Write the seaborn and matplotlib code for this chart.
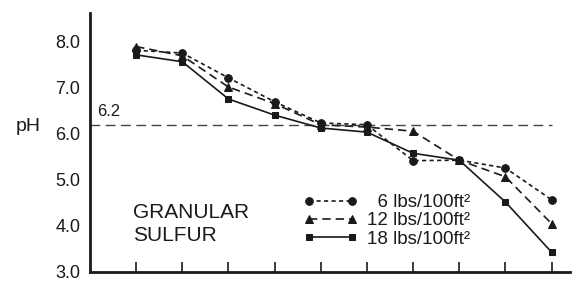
import matplotlib
matplotlib.use("Agg")
import matplotlib.pyplot as plt
import seaborn as sns
import pandas as pd

weeks = [1, 2, 3, 4, 5, 6, 7, 8, 9, 10]
ph_6 = [7.82, 7.76, 7.22, 6.70, 6.24, 6.20, 5.42, 5.43, 5.26, 4.57]
ph_12 = [7.90, 7.70, 7.02, 6.66, 6.20, 6.15, 6.06, 5.43, 5.07, 4.05]
ph_18 = [7.72, 7.57, 6.76, 6.41, 6.13, 6.04, 5.58, 5.43, 4.52, 3.43]
series_labels = ["6 lbs/100ft²", "12 lbs/100ft²", "18 lbs/100ft²"]
ytick_vals = [3.0, 4.0, 5.0, 6.0, 7.0, 8.0]
ref_ph = 6.2

sns.set_theme(style="white")
plt.rcParams['font.family'] = ['Liberation Sans', 'DejaVu Sans']

fig = plt.figure(figsize=(5.77, 2.83), dpi=100)
ax = fig.add_axes([0.156, 0.039, 0.832, 0.915])

df = pd.DataFrame({
    "x": weeks * 3,
    "pH": ph_6 + ph_12 + ph_18,
    "rate": [series_labels[0]] * 10 + [series_labels[1]] * 10 + [series_labels[2]] * 10,
})

ink = "#1a1a1a"
styles = [((0, (2.5, 2)), "o", 5.5), ((0, (5, 3)), "^", 5.5), ("-", "s", 5.0)]
handles = []
for lab, (ls, mk, ms) in zip(series_labels, styles):
    sub = df[df["rate"] == lab]
    sns.lineplot(data=sub, x="x", y="pH", ax=ax, color=ink, linestyle=ls,
                 marker=mk, markersize=ms, markeredgecolor=ink, linewidth=1.2,
                 legend=False)
    handles.append(ax.lines[-1])

ax.axhline(ref_ph, xmin=0, xmax=10.0 / 10.4, color="#444444", linestyle=(0, (7, 4)),
           linewidth=1.0, zorder=0)
ax.text(0.15, ref_ph + 0.12, "6.2", fontsize=12, color=ink, ha="left", va="bottom")

ax.set_xlim(0, 10.4)
ax.set_ylim(3.0, 8.63)
ax.set_xticks(weeks)
ax.set_xticklabels([])
ax.set_yticks(ytick_vals)
ax.set_yticklabels([f"{v:.1f}" for v in ytick_vals], fontsize=13, color=ink)
ax.tick_params(axis="x", direction="in", length=7, width=1.2, color=ink, bottom=True)
ax.tick_params(axis="y", length=0, pad=7)
ax.set_xlabel("")
ax.set_ylabel("pH", rotation=0, fontsize=14, color=ink, va="center", ha="center")
ax.yaxis.set_label_coords(-0.128, 0.56)

for side in ["top", "right"]:
    ax.spines[side].set_visible(False)
for side in ["left", "bottom"]:
    ax.spines[side].set_color(ink)
    ax.spines[side].set_linewidth(2.0)

ax.text(0.93, 4.3, "GRANULAR", fontsize=15, color=ink, ha="left", va="center")
ax.text(0.93, 3.8, "SULFUR", fontsize=15, color=ink, ha="left", va="center")

legend_labels = ["  " + series_labels[0], series_labels[1], series_labels[2]]
leg = ax.legend(handles=handles, labels=legend_labels, loc="upper left",
                bbox_to_anchor=(0.444, 0.30), frameon=False, fontsize=13.5,
                numpoints=2, handlelength=2.9, handletextpad=0.5,
                labelspacing=0.05, borderaxespad=0, borderpad=0)
for t in leg.get_texts():
    t.set_color(ink)

fig.savefig("out.png", dpi=100)
